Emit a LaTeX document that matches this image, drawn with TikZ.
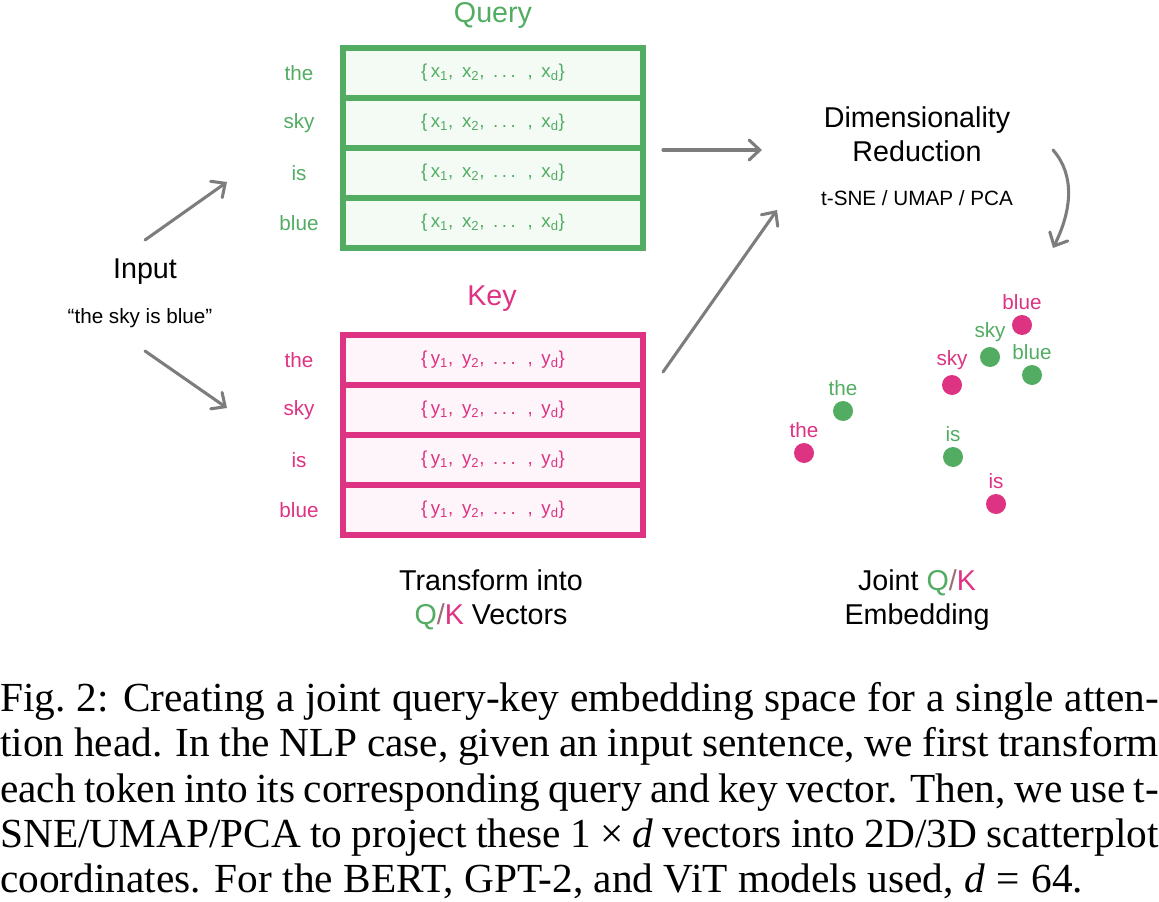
\documentclass[tikz,border=0pt]{standalone}
\usepackage{fontspec}
\setmainfont{Liberation Sans}
\newfontfamily\capfont{Liberation Serif}
\newfontfamily\vecfont[LetterSpace=19]{Liberation Sans}
\usepackage{xcolor}
\usetikzlibrary{arrows.meta}
\usetikzlibrary{positioning}

\definecolor{qgreen}{RGB}{82,172,98}
\definecolor{kpink}{RGB}{222,50,130}
\definecolor{qfill}{RGB}{243,251,244}
\definecolor{kfill}{RGB}{253,245,249}
\definecolor{pfeilgrau}{RGB}{125,125,125}

\tikzset{
  titel/.style={font=\fontsize{21.5}{25.5}\selectfont, align=center},
  klein/.style={font=\fontsize{15.5}{18}\selectfont},
  qrow/.style={draw=qgreen, fill=qfill, line width=3.8pt, minimum width=225pt, minimum height=37.5pt, inner sep=0pt, outer sep=0pt, text=qgreen, font=\fontsize{14}{16}\vecfont},
  krow/.style={qrow, draw=kpink, fill=kfill, text=kpink},
  pfeil/.style={draw=pfeilgrau, line width=2.3pt, line cap=round, -{Straight Barb[length=8pt, width=15pt, line cap=round]}},
  qdot/.style={circle, fill=qgreen, minimum size=15pt, inner sep=0pt},
  kdot/.style={circle, fill=kpink, minimum size=15pt, inner sep=0pt}
}
\newcommand{\qk}{{\color{qgreen}Q}{\color{qgreen!50!kpink}/}{\color{kpink}K}}

\begin{document}
\begin{tikzpicture}[x=0.75pt, y=-0.75pt]
\useasboundingbox (0,0) rectangle (1159,902); % Pixelraster des Originals, y nach unten

% Eingabe
\node[titel] (input) at (145,272) {Input};
\node[klein] (satz) at (140,318) {“the sky is blue”};

% Query- und Key-Tabellen
\node[titel, text=qgreen] (query) at (493,15) {Query};
\node[titel, text=kpink] (key) at (492,299) {Key};
\foreach \i/\w in {1/the,2/sky,3/is,4/blue}{
  \node[qrow] (q\i) at (493,23+50*\i) {\{x\textsubscript{1}, x\textsubscript{2}, ... , x\textsubscript{d}\}};
  \node[klein, text=qgreen] (qw\i) at (299,23+50*\i) {\w};
  \node[krow] (k\i) at (493,310+50*\i) {\{y\textsubscript{1}, y\textsubscript{2}, ... , y\textsubscript{d}\}};
  \node[klein, text=kpink] (kw\i) at (299,310+50*\i) {\w};
}
\node[titel] (trans) at (491,600) {Transform into\\\qk{} Vectors};

% Reduktion
\node[titel] (dimred) at (917,134) {Dimensionality\\Reduction};
\node[klein] (methoden) at (917,198) {t-SNE / UMAP / PCA};

% Pfeile (freie Enden als Koordinaten)
\coordinate (inOben) at (145,240);
\coordinate (qEin) at (227,182);
\coordinate (inUnten) at (145,351);
\coordinate (kEin) at (227,408);
\coordinate (qAus) at (663,150);
\coordinate (redEinA) at (762,150);
\coordinate (kAus) at (663,372);
\coordinate (redEinB) at (777,210);
\coordinate (redAus) at (1053,150);
\coordinate (embEin) at (1053,248);
\draw[pfeil] (inOben) -- (qEin);
\draw[pfeil] (inUnten) -- (kEin);
\draw[pfeil] (qAus) -- (redEinA);
\draw[pfeil] (kAus) -- (redEinB);
\draw[pfeil] (redAus) .. controls (1075,175) and (1072,210) .. (embEin);

% gemeinsame Einbettung
\node[qdot, label={[klein, text=qgreen]above:the}] (pthe) at (843,411) {};
\node[kdot, label={[klein, text=kpink]above:the}] (kthe) at (804,453) {};
\node[qdot, label={[klein, text=qgreen]above:is}] (pis) at (953,457) {};
\node[kdot, label={[klein, text=kpink]above:is}] (kis) at (996,504) {};
\node[kdot, label={[klein, text=kpink]above:sky}] (ksky) at (952,385) {};
\node[qdot, label={[klein, text=qgreen]above:sky}] (psky) at (990,357) {};
\node[qdot, label={[klein, text=qgreen]above:blue}] (pblue) at (1032,375) {};
\node[kdot, label={[klein, text=kpink]above:blue}] (kblue) at (1022,325) {};
\node[titel] (joint) at (917,600) {Joint \qk\\Embedding};

% Bildunterschrift
\node[anchor=north west, inner sep=0pt, text width=869pt, align=justify,
      font=\fontsize{31}{34}\capfont] (caption) at (0,682)
 {Fig.\ 2: Creating a joint query-key embedding space for a single atten-\linebreak
  tion head. In the NLP case, given an input sentence, we first transform\linebreak
  each token into its corresponding query and key vector. Then, we use t-\linebreak
  SNE/UMAP/PCA to project these 1\hspace{0.22em}×\hspace{0.22em}\textit{d} vectors into 2D/3D scatterplot\linebreak
  coordinates. For the BERT, GPT-2, and ViT models used, \textit{d}\hspace{0.28em}=\hspace{0.28em}64.};
\end{tikzpicture}
\end{document}
